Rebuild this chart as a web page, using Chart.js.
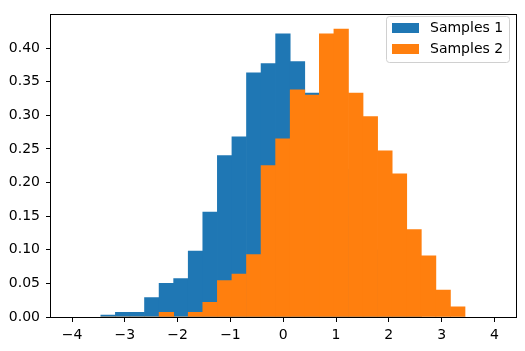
<!DOCTYPE html>
<html>
<head>
<meta charset="utf-8">
<script src="https://cdn.jsdelivr.net/npm/chart.js@4"></script>
<style>
html, body { margin: 0; padding: 0; background: #fff; }
</style>
</head>
<body>
<canvas id="hist" width="525" height="351"></canvas>
<script>
// histogram bins (centres), both series share the same bins
const bin_centers = [-3.318, -3.042, -2.766, -2.490, -2.214, -1.938, -1.662, -1.386, -1.110, -0.834,
    -0.558, -0.282, -0.006, 0.270, 0.546, 0.822, 1.098, 1.374, 1.650, 1.926,
    2.202, 2.478, 2.754, 3.030, 3.306]
const samples_1 = [0.003, 0.007, 0.007, 0.029, 0.050, 0.057, 0.098, 0.156, 0.240, 0.268,
    0.363, 0.377, 0.421, 0.380, 0.333, 0.270, 0.220, 0.150, 0.100, 0.060,
    0.030, 0.004, 0, 0, 0]
const samples_2 = [0, 0, 0, 0, 0.007, 0, 0.007, 0.022, 0.054, 0.064,
    0.093, 0.225, 0.265, 0.338, 0.330, 0.421, 0.428, 0.333, 0.298, 0.247,
    0.213, 0.130, 0.091, 0.040, 0.015]
const series_labels = ['Samples 1', 'Samples 2']
const series_colors = ['#1f77b4', '#ff7f0e']
const x_ticks = [-4, -3, -2, -1, 0, 1, 2, 3, 4]
const y_ticks = [0, 0.05, 0.10, 0.15, 0.20, 0.25, 0.30, 0.35, 0.40]

const FONT = { family: 'DejaVu Sans', size: 14 }

function points(values) {
    return bin_centers.map((x, i) => ({ x: x, y: values[i] }))
}

// spines on top of the bars + legend box in the upper right corner
const frame_and_legend = {
    id: 'frame_and_legend',
    afterDatasetsDraw(chart) {
        const ctx = chart.ctx
        const a = chart.chartArea
        ctx.save()
        ctx.strokeStyle = '#000'
        ctx.lineWidth = 1
        ctx.strokeRect(Math.round(a.left) - 0.5, Math.round(a.top) + 0.5,
            Math.round(a.right - a.left) + 1, Math.round(a.bottom - a.top))

        // legend
        const bx = 386.5, by = 16.5, bw = 123, bh = 46, r = 3
        ctx.beginPath()
        ctx.moveTo(bx + r, by)
        ctx.arcTo(bx + bw, by, bx + bw, by + bh, r)
        ctx.arcTo(bx + bw, by + bh, bx, by + bh, r)
        ctx.arcTo(bx, by + bh, bx, by, r)
        ctx.arcTo(bx, by, bx + bw, by, r)
        ctx.closePath()
        ctx.fillStyle = 'rgba(255,255,255,0.8)'
        ctx.fill()
        ctx.strokeStyle = '#d0d0d0'
        ctx.stroke()

        ctx.font = `${FONT.size}px "${FONT.family}"`
        ctx.textBaseline = 'middle'
        ctx.textAlign = 'left'
        chart.data.datasets.forEach((ds, i) => {
            const y = 23 + i * 21
            ctx.fillStyle = ds.backgroundColor
            ctx.fillRect(392, y, 27, 10)
            ctx.fillStyle = '#000'
            ctx.fillText(ds.label, 430, y + 5.5)
        })
        ctx.restore()
    }
}

new Chart(document.getElementById('hist'), {
    type: 'bar',
    data: {
        datasets: [{
            label: series_labels[0],
            data: points(samples_1),
            backgroundColor: series_colors[0],
            order: 1
        }, {
            label: series_labels[1],
            data: points(samples_2),
            backgroundColor: series_colors[1],
            order: 0
        }]
    },
    options: {
        responsive: false,
        animation: false,
        devicePixelRatio: 1,
        layout: { padding: { left: 0, right: 9, top: 9, bottom: 0 } },
        datasets: {
            bar: {
                grouped: false,
                barPercentage: 1,
                categoryPercentage: 1,
                borderWidth: 0
            }
        },
        plugins: {
            legend: { display: false },
            tooltip: { enabled: false }
        },
        scales: {
            x: {
                type: 'linear',
                offset: false,
                min: -4.4,
                max: 4.41,
                afterBuildTicks: scale => { scale.ticks = x_ticks.map(v => ({ value: v })) },
                afterFit: scale => { scale.height = 34 },
                border: { display: false },
                grid: { drawOnChartArea: false, tickLength: 5, tickColor: '#000', offset: false },
                ticks: {
                    color: '#000',
                    font: FONT,
                    padding: 5,
                    maxRotation: 0,
                    autoSkip: false,
                    callback: v => v < 0 ? '\u2212' + Math.abs(v) : String(v)
                }
            },
            y: {
                min: 0,
                max: 0.45,
                afterBuildTicks: scale => { scale.ticks = y_ticks.map(v => ({ value: v })) },
                afterFit: scale => { scale.width = 51 },
                border: { display: false },
                grid: { drawOnChartArea: false, tickLength: 5, tickColor: '#000' },
                ticks: {
                    color: '#000',
                    font: FONT,
                    padding: 6,
                    autoSkip: false,
                    callback: v => v.toFixed(2)
                }
            }
        }
    },
    plugins: [frame_and_legend]
})
</script>
</body>
</html>
